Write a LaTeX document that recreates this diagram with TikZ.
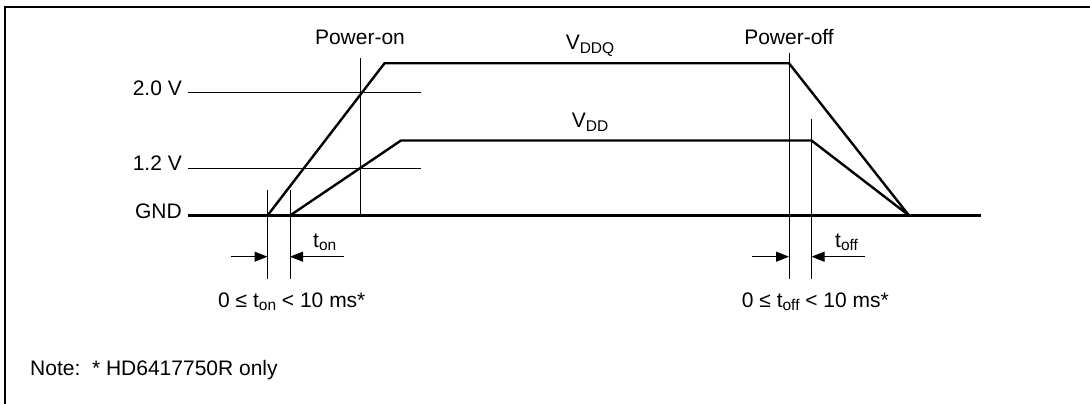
\documentclass[tikz,border=0pt]{standalone}
\usepackage{fontspec}
\setmainfont{Liberation Sans}
\usetikzlibrary{arrows.meta}
\newcommand{\lowsub}[1]{\raisebox{-3.5pt}{\fontsize{15.5}{16}\selectfont #1}}
\begin{document}
\begin{tikzpicture}[x=1pt,y=-1pt,
  sig/.style={line width=2.4pt, line join=miter},
  guide/.style={line width=1pt},
  frame/.style={line width=2pt},
  lbl/.style={font=\fontsize{21}{25}\selectfont, inner sep=0pt},
  dimarrow/.style={line width=1pt, -{Triangle[length=13pt,width=10pt]}}]
\useasboundingbox (0,0) rectangle (1090,404);
% frame (top and left edges only)
\draw[frame] (5,404) -- (5,7) -- (1090,7);
% coordinates
\coordinate (g0) at (188,215.5);
\coordinate (g1) at (981,215.5);
\coordinate (q0) at (267.5,215.5);
\coordinate (q1) at (384.5,63.3);
\coordinate (q2) at (789,63.3);
\coordinate (e)  at (909,215.5);
\coordinate (d0) at (290,215.5);
\coordinate (d1) at (401,140.5);
\coordinate (d2) at (811.5,140.5);
\coordinate (h0) at (188,92.7);
\coordinate (h1) at (421,92.7);
\coordinate (m0) at (188,168);
\coordinate (m1) at (421,168);
\coordinate (pon0) at (360.7,58);
\coordinate (pon1) at (360.7,215.5);
\coordinate (ta0) at (267.5,190);
\coordinate (ta1) at (267.5,279);
\coordinate (tb0) at (290,190);
\coordinate (tb1) at (290,279);
\coordinate (poff0) at (789,53);
\coordinate (poff1) at (789,279);
\coordinate (pf0) at (811.5,119);
\coordinate (pf1) at (811.5,279);
\coordinate (aL0) at (230.5,256.7);
\coordinate (aL1) at (267.5,256.7);
\coordinate (aR0) at (343.5,256.7);
\coordinate (aR1) at (290,256.7);
\coordinate (bL0) at (752,256.7);
\coordinate (bL1) at (789,256.7);
\coordinate (bR0) at (865,256.7);
\coordinate (bR1) at (811.5,256.7);
% guide lines
\draw[guide] (h0) -- (h1);
\draw[guide] (m0) -- (m1);
\draw[guide] (pon0) -- (pon1);
\draw[guide] (ta0) -- (ta1);
\draw[guide] (tb0) -- (tb1);
\draw[guide] (poff0) -- (poff1);
\draw[guide] (pf0) -- (pf1);
% signals
\draw[sig] (g0) -- (g1);
\draw[sig] (q0) -- (q1) -- (q2) -- (e);
\draw[sig] (d0) -- (d1) -- (d2) -- (e);
% dimension arrows
\draw[dimarrow] (aL0) -- (aL1);
\draw[dimarrow] (aR0) -- (aR1);
\draw[dimarrow] (bL0) -- (bL1);
\draw[dimarrow] (bR0) -- (bR1);
% labels
\node[lbl, anchor=mid east] (l20) at (182,92.7) {2.0 V};
\node[lbl, anchor=mid east] (l12) at (182,168) {1.2 V};
\node[lbl, anchor=mid east] (lgnd) at (182,215.5) {GND};
\node[lbl, anchor=base] (lpon) at (360,45) {Power-on};
\node[lbl, anchor=base] (lpoff) at (789,45) {Power-off};
\node[lbl, anchor=base] (lvddq) at (590,50) {V\lowsub{DDQ}};
\node[lbl, anchor=base] (lvdd) at (590,128) {V\lowsub{DD}};
\node[lbl, anchor=base west] (lton) at (313,247) {t\lowsub{on}};
\node[lbl, anchor=base west] (ltoff) at (835,247) {t\lowsub{off}};
\node[lbl, anchor=base west] (rton) at (218,307) {0 ≤ t\lowsub{on} < 10 ms*};
\node[lbl, anchor=base west] (rtoff) at (741.7,307) {0 ≤ t\lowsub{off} < 10 ms*};
\node[lbl, anchor=base west] (note) at (30,375) {Note:\ \ * HD6417750R only};
\end{tikzpicture}
\end{document}
